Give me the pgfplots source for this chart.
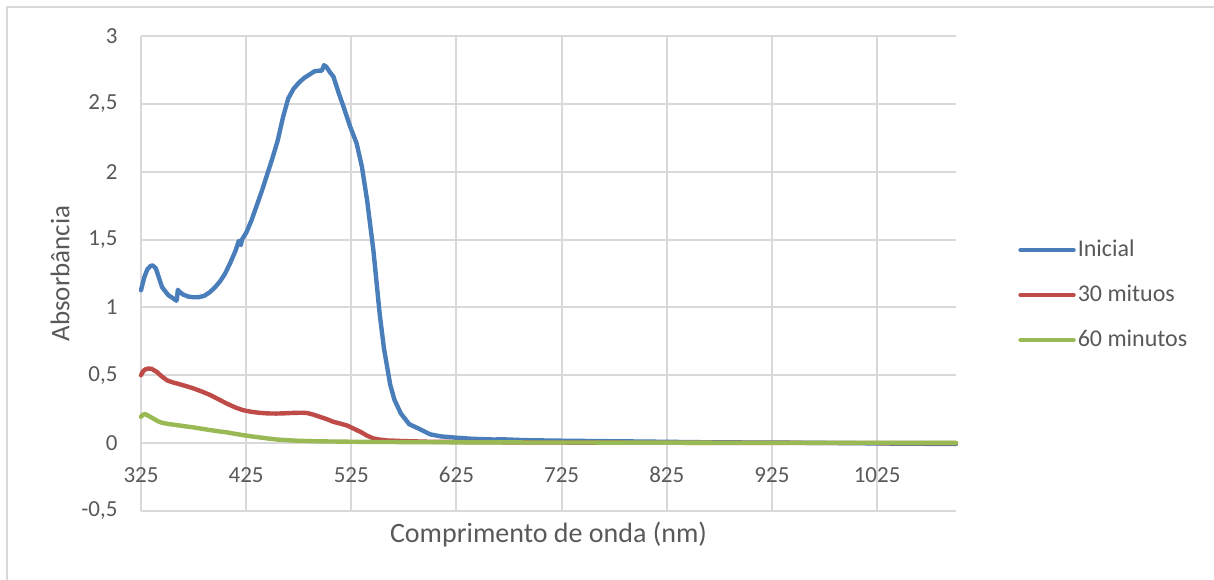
\documentclass[border=0pt]{standalone}
\usepackage{pgfplots}
\pgfplotsset{compat=1.18}
\usepackage{fontspec}
\setmainfont{Carlito}
\definecolor{cblue}{HTML}{4A7EBB}
\definecolor{cred}{HTML}{BE4B48}
\definecolor{cgreen}{HTML}{98B954}
\definecolor{cgrid}{HTML}{D9D9D9}
\definecolor{ctext}{HTML}{595959}
\begin{document}
\begin{tikzpicture}
\begin{axis}[
  at={(0,0)}, anchor=south west,
  scale only axis, width=407.5pt, height=237.5pt,
  xmin=325, xmax=1100, ymin=-0.5, ymax=3,
  xtick={325,425,...,1025}, ytick={-0.5,0,...,3},
  grid=major, major grid style={cgrid, line width=1pt},
  axis line style={draw=none},
  major tick length=0pt,
  clip=false,
  /pgf/number format/assume math mode=true,
  /pgf/number format/use comma,
  /pgf/number format/1000 sep={},
  x tick label style={font=\fontsize{11.5}{13}\selectfont, text=ctext, anchor=center, yshift=18pt},
  y tick label style={font=\fontsize{11.5}{13}\selectfont, text=ctext, anchor=east, xshift=-8.2pt},
  legend cell align=left,
  legend image code/.code={\draw[#1, line cap=round] (0pt,0pt) -- (26.5pt,0pt);},
  legend style={draw=none, fill=none, at={(rel axis cs:1.0760,0.4547)}, anchor=west,
    inner xsep=0pt, inner ysep=0pt, row sep=10.75pt,
    font=\fontsize{12}{14}\selectfont, text=ctext,
    nodes={inner xsep=1pt, inner ysep=1pt}},
  every axis plot/.append style={line width=2.2pt, line join=round, line cap=round},
]
\addplot[cblue] coordinates {
(325,1.127) (328,1.22) (331,1.28) (334,1.305) (336,1.31) (339,1.29) (342,1.22) (345,1.15) (348,1.12) (351,1.09) (355,1.07) (358.5,1.05) (359.2,1.06) (360,1.13) (361,1.12) (365,1.095) (370,1.08) (375,1.075) (380,1.076) (385,1.085) (390,1.11) (395,1.145) (400,1.19) (405,1.25) (410,1.33) (415,1.42) (418,1.49) (419,1.47) (420,1.46) (421,1.50) (425,1.55) (430,1.64) (435,1.75) (440,1.86) (445,1.98) (450,2.10) (455,2.23) (460,2.40) (465,2.54) (470,2.61) (475,2.655) (480,2.69) (485,2.715) (490,2.74) (495,2.745) (497,2.745) (499,2.785) (501,2.775) (505,2.73) (508,2.70) (513,2.58) (518,2.47) (524,2.33) (530,2.21) (535,2.04) (540,1.79) (546,1.42) (552,0.95) (556,0.70) (562,0.43) (566,0.32) (572,0.22) (580,0.14) (591,0.10) (600,0.065) (610,0.05) (625,0.04) (640,0.032) (660,0.027) (670,0.028) (690,0.022) (725,0.018) (762,0.015) (800,0.012) (857,0.007) (900,0.005) (950,0.003) (1000,0.0) (1050,-0.004) (1100,-0.006)
};
\addlegendentry{Inicial}
\addplot[cred] coordinates {
(325,0.50) (327,0.53) (329,0.543) (332,0.55) (335,0.548) (340,0.525) (345,0.49) (350,0.462) (355,0.448) (360,0.438) (368,0.42) (375,0.403) (383,0.38) (391,0.354) (399,0.322) (407,0.29) (415,0.262) (422,0.243) (430,0.231) (438,0.223) (446,0.219) (454,0.218) (462,0.22) (470,0.223) (478,0.224) (483,0.222) (489,0.21) (495,0.194) (502,0.176) (508,0.157) (515,0.143) (521,0.13) (527,0.108) (534,0.082) (540,0.055) (546,0.035) (552,0.026) (559,0.02) (572,0.016) (600,0.01) (650,0.007) (700,0.005) (800,0.003) (900,0.002) (1000,0.001) (1100,0.0)
};
\addlegendentry{30 mituos}
\addplot[cgreen] coordinates {
(325,0.194) (327,0.21) (329,0.214) (332,0.202) (337,0.18) (341,0.162) (345,0.15) (352,0.14) (359,0.133) (367,0.124) (375,0.116) (383,0.106) (391,0.096) (399,0.087) (407,0.079) (415,0.068) (422,0.059) (430,0.05) (438,0.042) (446,0.034) (454,0.027) (465,0.021) (476,0.017) (490,0.014) (508,0.012) (540,0.009) (572,0.008) (625,0.006) (700,0.005) (800,0.004) (900,0.003) (1000,0.003) (1100,0.002)
};
\addlegendentry{60 minutos}
\end{axis}
\node[text=ctext, font=\fontsize{14}{16}\selectfont] at (203.75pt,-12pt) {Comprimento de onda (nm)};
\node[text=ctext, font=\fontsize{13.5}{16}\selectfont, rotate=90] at (-40.5pt,118.75pt) {Absorbância};
\draw[cgrid, line width=1pt] (-67pt,-40pt) -- (-67pt,252pt) -- (540pt,252pt);
\pgfresetboundingbox
\path[use as bounding box] (-70.5pt,-34pt) rectangle (536.5pt,255.5pt);
\end{tikzpicture}
\end{document}
